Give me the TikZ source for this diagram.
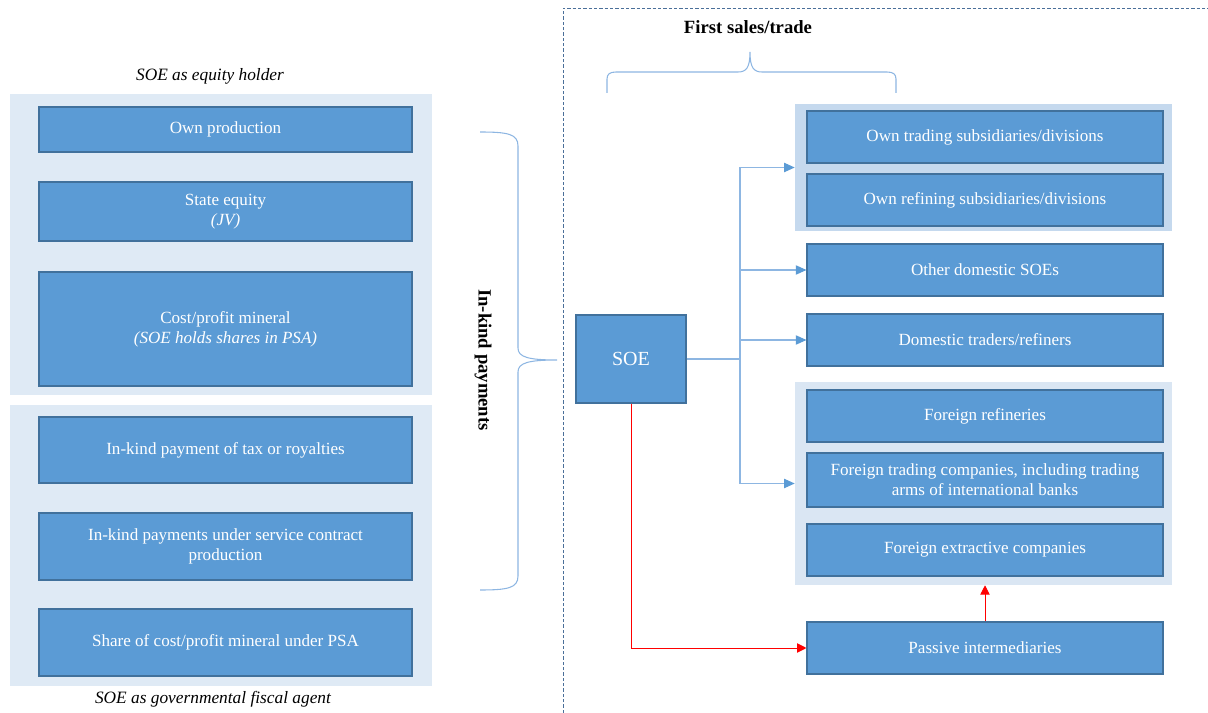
\documentclass[tikz,border=0pt]{standalone}
\usepackage{fontspec}
\setmainfont{Liberation Serif}
\usetikzlibrary{arrows.meta,positioning}
\definecolor{boxfill}{HTML}{5B9BD5}
\definecolor{boxline}{HTML}{41719C}
\definecolor{panelL}{HTML}{DFEAF5}
\definecolor{panelA}{HTML}{C5D9EE}
\definecolor{panelB}{HTML}{DAE6F3}
\definecolor{bracecol}{HTML}{8DB6E2}
\definecolor{flowcol}{HTML}{8DB6E2}
\definecolor{tipcol}{HTML}{5B9BD5}
\definecolor{dashcol}{HTML}{4A6F99}
\tikzset{
  box/.style={draw=boxline, line width=0.8pt, fill=boxfill, text=white,
    align=center, font=\fontsize{12.8}{15}\selectfont, inner sep=2pt},
  leftbox/.style={box, minimum width=279.75pt},
  rightbox/.style={box, minimum width=267pt, minimum height=39pt},
  panel/.style={fill=#1, draw=none, inner sep=0pt},
  caption/.style={font=\fontsize{13}{15}\selectfont\itshape},
  heading/.style={font=\fontsize{14}{16}\selectfont\bfseries},
  flow/.style={draw=flowcol, line width=0.8pt},
  flowarrow/.style={flow, -{Triangle[length=8pt,width=7pt,fill=tipcol,color=tipcol]}},
  redarrow/.style={draw=red, line width=0.7pt, -{Triangle[length=7pt,width=7pt]}},
  bracepath/.style={draw=bracecol, line width=0.8pt}
}
\begin{document}
\begin{tikzpicture}[x=0.75pt, y=-0.75pt]
  \useasboundingbox (0,0) rectangle (1208,713);
  % left panels
  \node[panel=panelL, minimum width=316.5pt, minimum height=225.75pt] (equitypanel) at (221,244.5) {};
  \node[panel=panelL, minimum width=316.5pt, minimum height=210.75pt] (fiscalpanel) at (221,545.5) {};
  \node[caption] (equitycap) at (210,76) {SOE as equity holder};
  \node[caption] (fiscalcap) at (213,699) {SOE as governmental fiscal agent};
  \node[leftbox, minimum height=33.75pt] (ownprod) at (225.5,129.5) {Own production};
  \node[leftbox, minimum height=44.25pt] (stateeq) at (225.5,211.5) {State equity\\\textit{(JV)}};
  \node[leftbox, minimum height=85.5pt] (costprofit) at (225.5,329) {Cost/profit mineral\\\textit{(SOE holds shares in PSA)}};
  \node[leftbox, minimum height=49.5pt] (taxroy) at (225.5,450) {In-kind payment of tax or royalties};
  \node[leftbox, minimum height=50.25pt] (service) at (225.5,546.5) {In-kind payments under service contract\\production};
  \node[leftbox, minimum height=50.25pt] (sharepsa) at (225.5,642.5) {Share of cost/profit mineral under PSA};
  % in-kind brace
  \draw[bracepath] (480,132) .. controls (508,132) and (518,134) .. (518,146)
    -- (518,348) .. controls (518,357) and (528,360) .. (557,360)
    .. controls (528,360) and (518,363) .. (518,372)
    -- (518,576) .. controls (518,588) and (508,590) .. (480,590);
  \node[heading, rotate=-90] (inkind) at (483,360) {In-kind payments};
  % dashed frame
  \draw[dashcol, line width=0.6pt, dash pattern=on 2.5pt off 1.5pt] (563,713) -- (563,8) -- (1208,8);
  \node[heading] (firstsales) at (748,27) {First sales/trade};
  \draw[bracepath] (607,93) -- (607,79) .. controls (607,74) and (610,72) .. (616,72)
    -- (738,72) .. controls (746,72) and (750,68) .. (750,52)
    .. controls (750,68) and (754,72) .. (762,72)
    -- (887,72) .. controls (893,72) and (896,74) .. (896,79) -- (896,93);
  % right side
  \node[box, minimum width=82.5pt, minimum height=66pt, font=\fontsize{15}{17}\selectfont] (soe) at (631,359) {SOE};
  \node[panel=panelA, minimum width=282.75pt, minimum height=95.25pt] (ownpanel) at (983.5,167.5) {};
  \node[panel=panelB, minimum width=282.75pt, minimum height=152.25pt] (foreignpanel) at (983.5,483.5) {};
  \node[rightbox] (owntrade) at (985,137) {Own trading subsidiaries/divisions};
  \node[rightbox] (ownrefine) at (985,200) {Own refining subsidiaries/divisions};
  \node[rightbox] (otherdom) at (985,270) {Other domestic SOEs};
  \node[rightbox] (domtrade) at (985,340) {Domestic traders/refiners};
  \node[rightbox] (forref) at (985,416) {Foreign refineries};
  \node[rightbox, minimum height=40.5pt] (fortrade) at (985,480) {Foreign trading companies, including trading\\arms of international banks};
  \node[rightbox] (forext) at (985,550) {Foreign extractive companies};
  \node[rightbox] (passive) at (985,648) {Passive intermediaries};
  % connectors
  \coordinate (junc) at (740,359);
  \draw[flow] (soe.east) -- (junc);
  \draw[flowarrow] (junc) |- (ownpanel.west);
  \draw[flowarrow] (junc) |- (otherdom.west);
  \draw[flowarrow] (junc) |- (domtrade.west);
  \draw[flowarrow] (junc) |- (foreignpanel.west);
  \draw[redarrow] (soe.south) |- (passive.west);
  \draw[redarrow] (passive.north) -- (passive.north |- foreignpanel.south);
\end{tikzpicture}
\end{document}
